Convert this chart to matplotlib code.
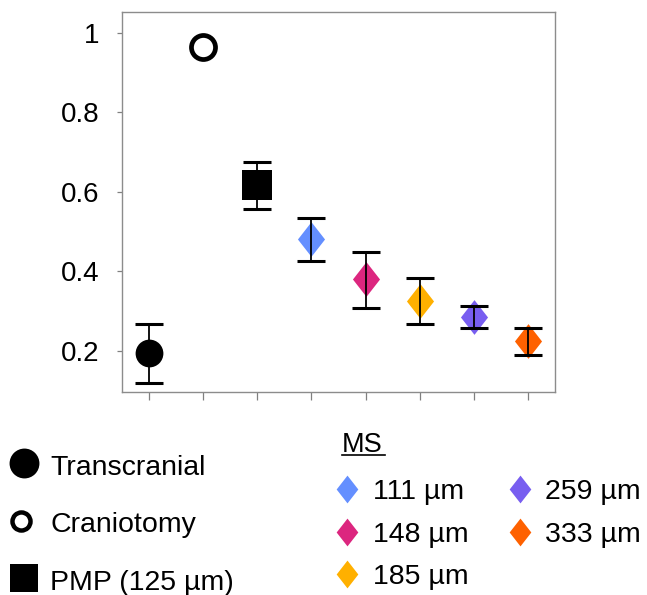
import matplotlib
matplotlib.use("Agg")
import matplotlib.pyplot as plt
from matplotlib.path import Path
from matplotlib.lines import Line2D

plt.rcParams["font.family"] = ["Liberation Sans", "DejaVu Sans"]

# groups along the x axis
groups = ["Transcranial", "Craniotomy", "PMP (125 µm)",
          "111 µm", "148 µm", "185 µm", "259 µm", "333 µm"]
values = [0.194, 0.963, 0.616, 0.482, 0.380, 0.325, 0.286, 0.224]
# error bar ends (None = no error bar shown)
err_low = [0.120, None, 0.557, 0.427, 0.309, 0.267, 0.259, 0.191]
err_high = [0.268, None, 0.675, 0.535, 0.450, 0.384, 0.313, 0.259]

ms_labels = ["111 µm", "148 µm", "185 µm", "259 µm", "333 µm"]
ms_colors = ["#648FFF", "#DC267F", "#FFB000", "#785EF0", "#FE6100"]

ytick_vals = [0.2, 0.4, 0.6, 0.8, 1.0]
ytick_labels = ["0.2", "0.4", "0.6", "0.8", "1"]

# tall diamond marker (narrower than matplotlib's 'D')
diamond = Path([(0, 1), (0.78, 0), (0, -1), (-0.78, 0), (0, 1)],
               [Path.MOVETO, Path.LINETO, Path.LINETO, Path.LINETO, Path.CLOSEPOLY])

W, H = 647, 595
fig = plt.figure(figsize=(W / 100, H / 100), dpi=100)
ax = fig.add_axes([122 / W, 1 - 392 / H, (555 - 122) / W, (392 - 12) / H])

xs = list(range(1, len(groups) + 1))

# marker styles per group
styles = [
    dict(marker="o", ms=20, mfc="black", mec="black", mew=0),
    dict(marker="o", ms=17.3, mfc="white", mec="black", mew=3.4),
    dict(marker="s", ms=21, mfc="black", mec="black", mew=0),
]
for c in ms_colors:
    styles.append(dict(marker=diamond, ms=25, mfc=c, mec=c, mew=0))

for x, v, st in zip(xs, values, styles):
    ax.plot([x], [v], linestyle="none", zorder=2, **st)

for x, v, lo, hi in zip(xs, values, err_low, err_high):
    if lo is None:
        continue
    ax.errorbar([x], [v], yerr=[[v - lo], [hi - v]], fmt="none",
                ecolor="black", elinewidth=1.3, capsize=10, capthick=2.2,
                zorder=3)

ax.set_xlim(0.5, 8.5)
ax.set_ylim(0.097, 1.052)
ax.set_xticks(xs)
ax.set_xticklabels([])
ax.set_yticks(ytick_vals)
ax.set_yticklabels(ytick_labels, fontsize=20)
ax.tick_params(axis="y", length=3.5, width=0.9, color="#808080", pad=12.5)
ax.tick_params(axis="x", length=5.5, width=0.9, color="#808080")
for sp in ax.spines.values():
    sp.set_color("#8c8c8c")
    sp.set_linewidth(1.0)

# legend drawn in pixel coordinates on an overlay
lax = fig.add_axes([0, 0, 1, 1])
lax.set_xlim(0, W)
lax.set_ylim(H, 0)
lax.axis("off")

left_rows = [(24, 463, 475), (21, 520.5, 532.5), (24, 578, 590)]
left_styles = [
    dict(marker="o", ms=21.5, mfc="black", mec="black", mew=0),
    dict(marker="o", ms=13, mfc="white", mec="black", mew=3.2),
    dict(marker="s", ms=20, mfc="black", mec="black", mew=0),
]
for (mx, ym, yb), st, lab in zip(left_rows, left_styles, groups[:3]):
    lax.plot([mx], [ym], linestyle="none", **st)
    lax.text(50, yb, lab, fontsize=20.5, va="baseline", ha="left")

lax.text(342, 451.5, "MS", fontsize=19.5, va="baseline", ha="left")
lax.add_line(Line2D([342, 385], [454.5, 454.5], color="black", lw=1.2))

ms_pos = [(347, 373, 489, 499), (347, 373, 532, 542), (347, 373, 574, 584),
          (520, 545, 489, 499), (520, 545, 532, 542)]
for (mx, tx, ym, yb), lab, c in zip(ms_pos, ms_labels, ms_colors):
    lax.plot([mx], [ym], linestyle="none", marker=diamond, ms=20,
             mfc=c, mec=c, mew=0)
    lax.text(tx, yb, lab, fontsize=20.5, va="baseline", ha="left")

fig.savefig("out.png", dpi=100)
